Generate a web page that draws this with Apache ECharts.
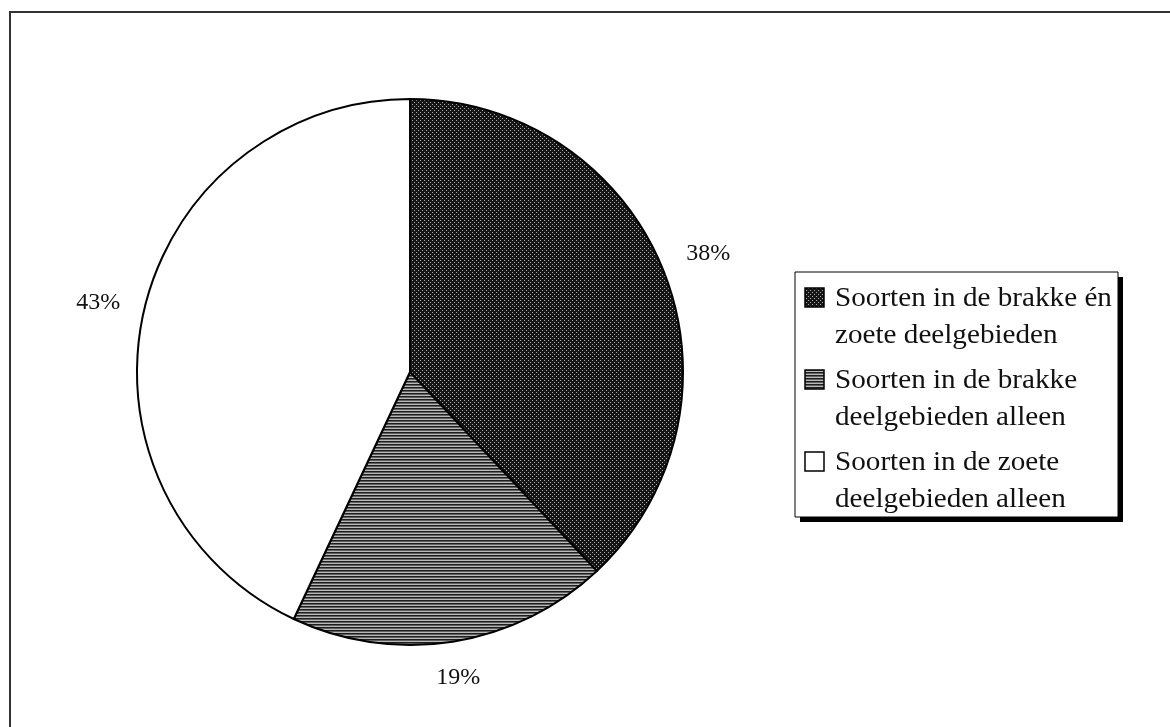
<!DOCTYPE html>
<html>
<head>
<meta charset="utf-8">
<script src="https://cdn.jsdelivr.net/npm/echarts@6/dist/echarts.min.js"></script>
<style>
  html, body { margin: 0; padding: 0; background: #fff; }
  #chart { width: 1170px; height: 727px; }
</style>
</head>
<body>
<div id="chart"></div>
<script>
// ---- data ----
const categories = [
  'Soorten in de brakke én zoete deelgebieden',
  'Soorten in de brakke deelgebieden alleen',
  'Soorten in de zoete deelgebieden alleen'
];
const legendLines = [
  ['Soorten in de brakke én', 'zoete deelgebieden'],
  ['Soorten in de brakke', 'deelgebieden alleen'],
  ['Soorten in de zoete', 'deelgebieden alleen']
];
const values = [38, 19, 43];

// ---- styles ----
const FONT = '"Liberation Serif", "Times New Roman", serif';
const CX = 410, CY = 372, R = 273;

function makePattern(w, h, draw) {
  const c = document.createElement('canvas');
  c.width = w; c.height = h;
  const ctx = c.getContext('2d');
  draw(ctx);
  return { image: c, repeat: 'repeat' };
}
const dotPattern = makePattern(4, 4, ctx => {
  ctx.fillStyle = '#161616'; ctx.fillRect(0, 0, 4, 4);
  ctx.fillStyle = '#a8a8a8';
  ctx.fillRect(0, 0, 1, 1);
  ctx.fillRect(2, 2, 1, 1);
});
const linePattern = makePattern(4, 3, ctx => {
  ctx.fillStyle = '#1e1e1e'; ctx.fillRect(0, 0, 4, 1);
  ctx.fillStyle = '#606060'; ctx.fillRect(0, 1, 4, 1);
  ctx.fillStyle = '#b8b8b8'; ctx.fillRect(0, 2, 4, 1);
});
const fills = [dotPattern, linePattern, '#ffffff'];

const total = values.reduce((a, b) => a + b, 0);
function midAngle(i) {
  let acc = 0;
  for (let k = 0; k < i; k++) acc += values[k];
  return (acc + values[i] / 2) / total * Math.PI * 2;
}

// ---- legend built from the category lines ----
const legendX = 795, legendY = 272, legendW = 323, legendH = 245;
const legendChildren = [
  { type: 'rect', shape: { x: legendX + 5, y: legendY + 5, width: legendW, height: legendH },
    style: { fill: '#000' } },
  { type: 'rect', shape: { x: legendX, y: legendY, width: legendW, height: legendH },
    style: { fill: '#fff', stroke: '#000', lineWidth: 1 } }
];
legendLines.forEach((lines, i) => {
  const top = legendY + 8 + i * 82;
  legendChildren.push({
    type: 'rect',
    shape: { x: legendX + 10, y: top + 8, width: 19, height: 19 },
    style: { fill: fills[i], stroke: '#000', lineWidth: 1.5 }
  });
  legendChildren.push({
    type: 'text',
    x: legendX + 40, y: top,
    scaleX: 1.08,
    style: {
      text: lines.join('\n'),
      font: '27px ' + FONT,
      fill: '#111',
      lineHeight: 37,
      verticalAlign: 'top',
      align: 'left'
    }
  });
});

const chart = echarts.init(document.getElementById('chart'), null, { renderer: 'canvas' });
chart.setOption({
  backgroundColor: '#ffffff',
  animation: false,
  graphic: [
    { type: 'polyline', shape: { points: [[10, 730], [10, 12], [1175, 12]] },
      style: { stroke: '#333', lineWidth: 2, fill: null } },
    { type: 'group', children: legendChildren }
  ],
  series: [{
    type: 'pie',
    center: [CX, CY],
    radius: R,
    startAngle: 90,
    clockwise: true,
    avoidLabelOverlap: false,
    data: categories.map((name, i) => ({
      name, value: values[i],
      itemStyle: { color: fills[i] }
    })),
    itemStyle: { borderColor: '#000', borderWidth: 2 },
    emphasis: { disabled: true },
    label: {
      show: true,
      position: 'outside',
      formatter: p => Math.round(p.percent) + '%',
      fontFamily: FONT,
      fontSize: 24,
      color: '#111'
    },
    labelLine: { show: false },
    labelLayout: function (p) {
      const a = midAngle(p.dataIndex);
      const s = Math.sin(a), c = Math.cos(a);
      const hw = p.labelRect.width / 2, hh = p.labelRect.height / 2;
      const ext = Math.min(Math.abs(s) > 1e-6 ? hw / Math.abs(s) : 1e9,
                           Math.abs(c) > 1e-6 ? hh / Math.abs(c) : 1e9);
      const d = R + 24 + ext;
      return { x: CX + d * s, y: CY - d * c, align: 'center', verticalAlign: 'middle' };
    }
  }]
});
</script>
</body>
</html>
